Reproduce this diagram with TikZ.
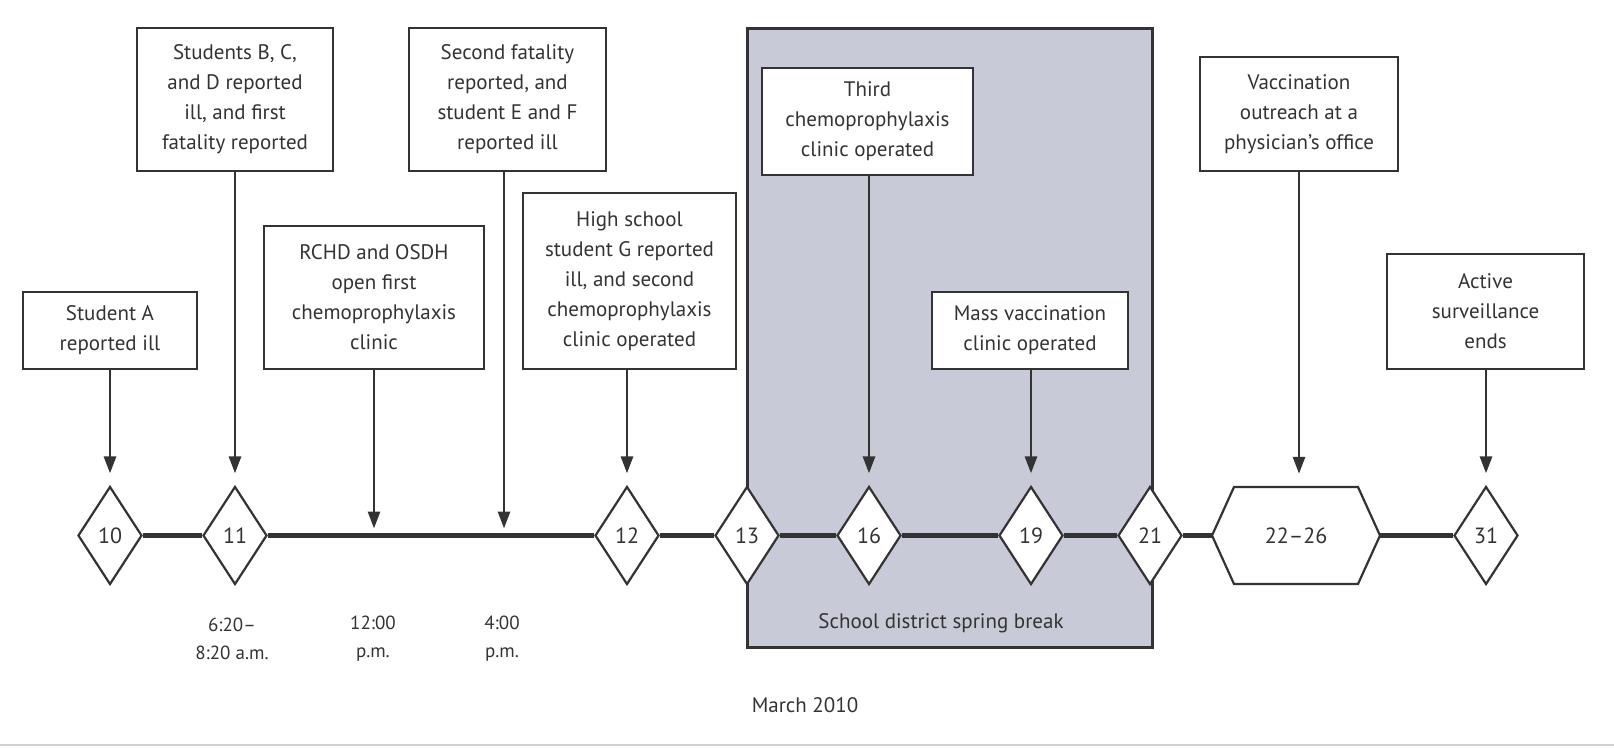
\documentclass[tikz,border=0pt]{standalone}
\usepackage{fontspec}
\setmainfont{PT Sans}
\usetikzlibrary{arrows.meta,shapes.geometric}
\definecolor{ink}{HTML}{333333}
\definecolor{breakfill}{HTML}{C8CAD8}
\definecolor{frameline}{HTML}{D0D0D0}
\begin{document}
\begin{tikzpicture}[x=1pt,y=-1pt,
  evbox/.style={draw=ink,line width=2.6pt,fill=white,inner sep=0pt,align=center,text=ink,font=\fontsize{21}{30}\selectfont},
  day/.style={diamond,draw=ink,line width=2.2pt,fill=white,inner sep=0pt,minimum width=64pt,minimum height=98pt,text=ink,font=\fontsize{22}{26}\selectfont},
  pointer/.style={draw=ink,line width=2.8pt,-{Triangle[width=12pt,length=17pt]}},
  tline/.style={draw=ink,line width=5pt},
  lbl/.style={text=ink,align=center,inner sep=0pt,font=\fontsize{19}{28}\selectfont}]
\useasboundingbox (0,0) rectangle (1614,747);
\draw[frameline,line width=2pt] (0,745) -- (1614,745);
% spring break band
\node[draw=ink,fill=breakfill,line width=3pt,inner sep=0pt,minimum width=405pt,minimum height=619pt] (brk) at (949.5,337.5) {};
\node[lbl,font=\fontsize{21}{28}\selectfont] (brklbl) at (941,623) {School district spring break};
% event boxes
\node[evbox,minimum width=174pt,minimum height=77pt] (bA) at (110,330.5) {Student A\\reported ill};
\node[evbox,minimum width=196pt,minimum height=143pt] (bBCD) at (235,99.5) {Students B, C,\\and D reported\\ill, and first\\fatality reported};
\node[evbox,minimum width=220pt,minimum height=143pt] (bRC) at (374,297.5) {RCHD and OSDH\\open first\\chemoprophylaxis\\clinic};
\node[evbox,minimum width=197pt,minimum height=143pt] (bSF) at (507.5,99.5) {Second fatality\\reported, and\\student E and F\\reported ill};
\node[evbox,minimum width=213pt,minimum height=176pt] (bHS) at (629.5,281) {High school\\student G reported\\ill, and second\\chemoprophylaxis\\clinic operated};
\node[evbox,minimum width=211pt,minimum height=107pt] (bTC) at (867.5,121.5) {Third\\chemoprophylaxis\\clinic operated};
\node[evbox,minimum width=196pt,minimum height=77pt] (bMV) at (1030,330.5) {Mass vaccination\\clinic operated};
\node[evbox,minimum width=198pt,minimum height=114pt] (bVO) at (1299,114) {Vaccination\\outreach at a\\physician’s office};
\node[evbox,minimum width=197pt,minimum height=115pt] (bAS) at (1485.5,311.5) {Active\\surveillance\\ends};
% day markers
\node[day] (d10) at (110,535.5) {10};
\node[day] (d11) at (235,535.5) {11};
\node[day] (d12) at (627,535.5) {12};
\node[day] (d13) at (747,535.5) {13};
\node[day] (d16) at (869,535.5) {16};
\node[day] (d19) at (1031,535.5) {19};
\node[day] (d21) at (1150,535.5) {21};
\node[day] (d31) at (1486,535.5) {31};
\draw[draw=ink,line width=2.2pt,fill=white,line join=miter] (1212,535.5) -- (1234,487) -- (1358,487) -- (1380,535.5) -- (1358,584) -- (1234,584) -- cycle;
\node[inner sep=0pt,minimum width=168pt,minimum height=97pt,text=ink,font=\fontsize{22}{26}\selectfont] (d2226) at (1296,535.5) {22–26};
\coordinate (t12) at (374,535.5);
\coordinate (t4) at (504,535.5);
% timeline
\draw[tline] (d10.east) -- (d11.west);
\draw[tline] (d11.east) -- (d12.west);
\draw[tline] (d12.east) -- (d13.west);
\draw[tline] (d13.east) -- (d16.west);
\draw[tline] (d16.east) -- (d19.west);
\draw[tline] (d19.east) -- (d21.west);
\draw[tline] (d21.east) -- (d2226.west);
\draw[tline] (d2226.east) -- (d31.west);
% pointers
\draw[pointer,shorten >=12pt] (d10 |- bA.south) -- (d10.north);
\draw[pointer,shorten >=12pt] (d11 |- bBCD.south) -- (d11.north);
\draw[pointer,shorten >=7pt] (t12 |- bRC.south) -- (t12);
\draw[pointer,shorten >=7pt] (t4 |- bSF.south) -- (t4);
\draw[pointer,shorten >=12pt] (d12 |- bHS.south) -- (d12.north);
\draw[pointer,shorten >=12pt] (d16 |- bTC.south) -- (d16.north);
\draw[pointer,shorten >=12pt] (d19 |- bMV.south) -- (d19.north);
\draw[pointer,shorten >=13pt] (bVO.south) -- (bVO.south |- d2226.north);
\draw[pointer,shorten >=12pt] (d31 |- bAS.south) -- (d31.north);
% time labels
\node[lbl] (l1) at (232,639) {6:20–\\8:20 a.m.};
\node[lbl] (l2) at (373,639) {12:00\\p.m.};
\node[lbl] (l3) at (502,639) {4:00\\p.m.};
\node[lbl,font=\fontsize{21}{28}\selectfont] (month) at (805,705) {March 2010};
\end{tikzpicture}
\end{document}
